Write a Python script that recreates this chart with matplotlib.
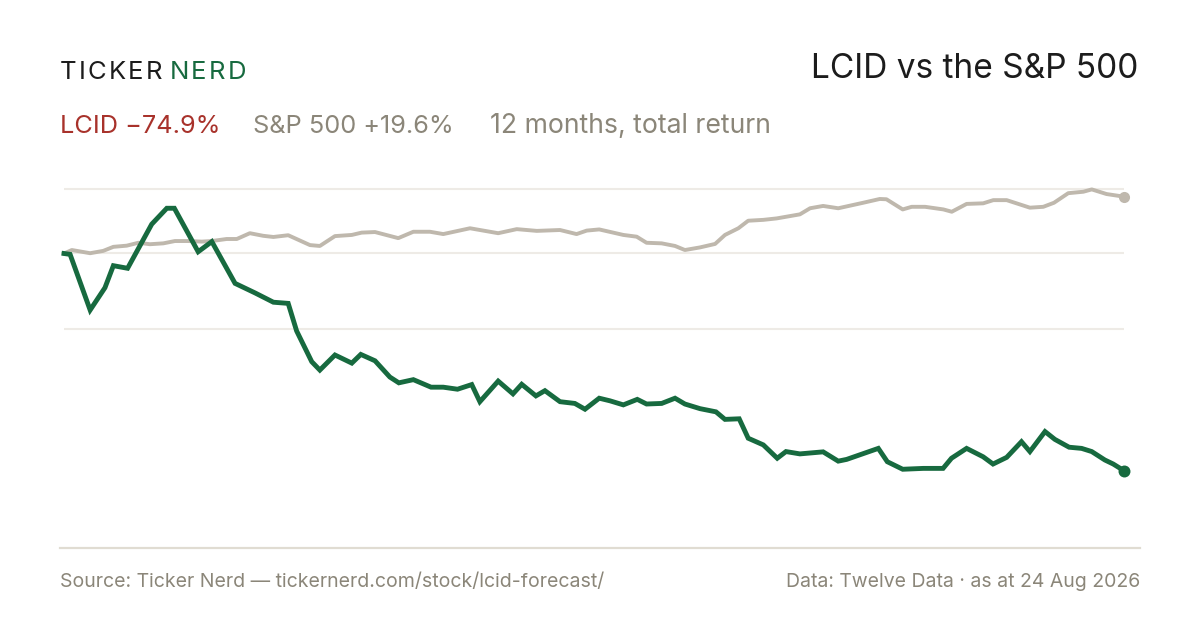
import matplotlib
matplotlib.use("Agg")
import matplotlib.pyplot as plt
from matplotlib.lines import Line2D

W, H = 1200, 630

# 12-month total return (%); x = days since start
lcid_day = [0, 2.1, 9.0, 14.1, 17.0, 21.9, 30.2, 35.4, 38.0, 46.2, 50.9, 58.9, 65.8,
            72.1, 77.2, 80.1, 85.3, 88.1, 93.3, 99.1, 102.2, 107.1, 112.2, 115.3,
            120.3, 126.4, 130.6, 135.5, 140.4, 143.2, 149.5, 154.6, 157.6, 162.5,
            165.6, 170.8, 175.9, 179.4, 184.3, 188.0, 192.6, 197.4, 200.6, 205.8,
            210.4, 213.8, 219.0, 224.5, 227.6, 232.5, 235.6, 240.8, 245.6, 248.6,
            253.4, 261.4, 266.6, 269.5, 280.4, 283.5, 288.8, 295.9, 302.7, 305.6,
            310.8, 316.5, 319.9, 324.6, 329.7, 332.6, 337.8, 341.2, 346.1, 350.4,
            353.9, 358.4, 361.3, 365]
lcid_ret = [0, -0.3, -19.5, -11.8, -4.2, -5.1, 10.1, 15.6, 15.6, 0.6, 4.1, -10.3, -13.6,
            -16.8, -17.2, -26.7, -37.3, -40.2, -35.0, -37.8, -34.8, -37.0, -42.6, -44.6,
            -43.5, -46.1, -46.1, -46.8, -45.2, -51.1, -44.0, -48.4, -45.1, -49.1,
            -47.3, -51.1, -51.7, -53.7, -49.9, -50.8, -52.2, -50.3, -51.9, -51.7,
            -49.9, -51.9, -53.5, -54.6, -57.2, -57.0, -63.7, -66.0, -70.6, -68.3,
            -69.1, -68.4, -71.6, -71.0, -67.2, -71.8, -74.4, -74.1, -74.1, -70.6,
            -67.2, -70.1, -72.6, -70.3, -64.9, -68.3, -61.4, -64.1, -66.8, -67.2,
            -68.3, -71.2, -72.6, -74.9]

spx_day = [0, 2.7, 9.0, 13.5, 17.0, 21.6, 25.6, 29.6, 34.2, 38.2, 42.8, 47.4, 50.9,
           56.0, 59.5, 64.0, 68.6, 72.1, 77.2, 84.7, 88.1, 93.3, 99.1, 102.5, 107.1,
           115.1, 120.3, 126.0, 130.6, 139.8, 149.5, 155.9, 162.8, 170.8, 176.5,
           180.0, 184.3, 192.6, 197.2, 200.6, 205.8, 210.4, 213.8, 219.0, 224.2,
           227.6, 232.2, 235.6, 240.8, 245.4, 253.4, 256.9, 261.4, 266.6, 275.2,
           280.9, 283.2, 288.8, 291.9, 296.5, 302.8, 305.7, 310.8, 316.5, 320.0,
           324.6, 332.6, 337.2, 340.9, 345.8, 351.0, 353.9, 359.0, 365]
spx_ret = [0, 1.2, 0.1, 0.9, 2.3, 2.7, 3.7, 3.2, 3.5, 4.3, 4.3, 4.1, 4.3,
           5.0, 5.0, 7.0, 6.1, 5.7, 6.3, 2.9, 2.6, 6.0, 6.4, 7.2, 7.4,
           5.3, 7.5, 7.5, 6.7, 8.7, 7.0, 8.4, 7.8, 8.1, 6.7,
           7.9, 8.3, 6.4, 5.8, 3.7, 3.5, 2.6, 1.2, 2.1, 3.3,
           6.4, 8.7, 11.3, 11.6, 12.1, 13.5, 15.6, 16.4, 15.6, 17.5,
           18.8, 18.7, 15.2, 16.1, 16.1, 15.2, 14.4, 17.1, 17.3, 18.4,
           18.4, 15.8, 16.1, 17.5, 20.8, 21.3, 22.1, 20.5, 19.6]

grid_vals = [22.2, 0, -26.0]

title = "LCID vs the S&P 500"
lcid_label = "LCID \u221274.9%"
spx_label = "S&P 500 +19.6%"
period_label = "12 months, total return"
source_text = "Source: Ticker Nerd \u2014 tickernerd.com/stock/lcid-forecast/"
data_text = "Data: Twelve Data \u00b7 as at 24 Aug 2026"

GREEN = "#176a3f"
SAND = "#bfb8ad"
RED = "#a8322b"
MUTED = "#8b8679"
INK = "#1c1c1c"
GRID = "#eeebe6"
RULE = "#e0dcd2"

plt.rcParams["font.family"] = ["Inter", "DejaVu Sans"]

fig = plt.figure(figsize=(12, 6.3), dpi=100)
fig.patch.set_facecolor("white")
renderer = fig.canvas.get_renderer()


def fx(px):
    return px / W


def fy(py):
    return 1 - py / H


# plot area: x 64..1124 px, y 170..540 px, 2.9 px per percentage point, 0 at 253.5 px
ax = fig.add_axes([fx(64), fy(540), fx(1124) - fx(64), fy(170) - fy(540)])
ax.set_xlim(0, 365)
ax.set_ylim(-(540 - 253.5) / 2.9, (253.5 - 170) / 2.9)
ax.axis("off")

for g in grid_vals:
    ax.axhline(g, color=GRID, linewidth=1.5, zorder=1)

ax.plot(spx_day, spx_ret, color=SAND, linewidth=2.8, solid_joinstyle="round",
        clip_on=False, zorder=2)
ax.plot(lcid_day, lcid_ret, color=GREEN, linewidth=3.5, solid_joinstyle="miter",
        clip_on=False, zorder=3)
ax.scatter([spx_day[-1]], [spx_ret[-1]], s=64, color=SAND, zorder=4, clip_on=False,
           linewidths=0)
ax.scatter([lcid_day[-1]], [lcid_ret[-1]], s=74, color=GREEN, zorder=5, clip_on=False,
           linewidths=0)

# bottom rule
fig.add_artist(Line2D([fx(60), fx(1140)], [fy(548), fy(548)], color=RULE, linewidth=1.6))


def spaced_text(x_px, y_px, text, color, size, tracking):
    x = x_px
    for ch in text:
        t = fig.text(fx(x), fy(y_px), ch, color=color, fontsize=size, va="baseline",
                     ha="left")
        x += t.get_window_extent(renderer).width + tracking
    return x


def fitted_text(x_px, y_px, text, color, size, width_px, ha="left"):
    # the reference face runs a little wider than Inter, so size to its measured width
    t = fig.text(fx(x_px), fy(y_px), text, color=color, fontsize=size, ha=ha,
                 va="baseline")
    w = t.get_window_extent(renderer).width
    t.set_fontsize(size * width_px / w)
    return t


end = spaced_text(60, 79, "TICKER", INK, 18.5, 2.2)
spaced_text(end + 5, 79, "NERD", GREEN, 18.5, 2.2)

fitted_text(1138, 78, title, INK, 23, 327, ha="right")

spx_t = fitted_text(253, 133, spx_label, MUTED, 18, 201)
fig.text(fx(60), fy(133), lcid_label, color=RED, fontsize=spx_t.get_fontsize(),
         ha="left", va="baseline")
fitted_text(490, 133, period_label, MUTED, 18, 281)

fitted_text(60, 587, source_text, MUTED, 12, 544)
fitted_text(1140, 587, data_text, MUTED, 12, 355, ha="right")

fig.savefig("out.png", dpi=100, facecolor="white")
